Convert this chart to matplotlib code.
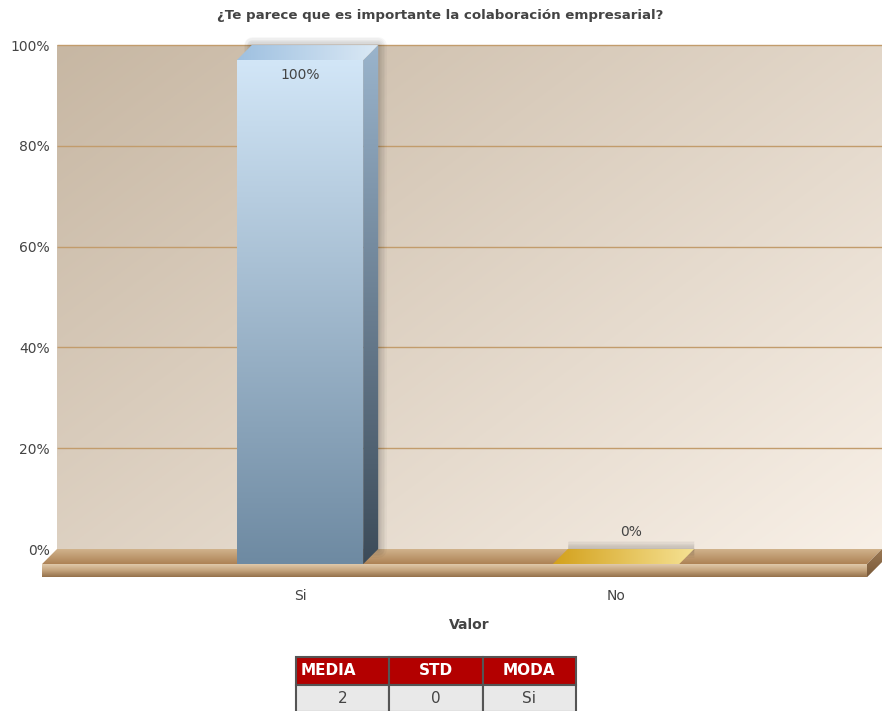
import numpy as np
import matplotlib
matplotlib.use('Agg')
import matplotlib.pyplot as plt
from matplotlib.patches import Polygon
from matplotlib.colors import LinearSegmentedColormap, to_rgb

title = '¿Te parece que es importante la colaboración empresarial?'
categories = ['Si', 'No']
values = [100, 0]
value_labels = ['100%', '0%']
y_ticks = [0, 20, 40, 60, 80, 100]
stats_header = ['MEDIA', 'STD', 'MODA']
stats_row = ['2', '0', 'Si']

# per-category colours: front face, side face, top face
front_colors = [['#d2e6f7', '#6e8aa2'], ['#f2d46a', '#c99a18']]
side_colors = [['#9ab4cc', '#3c4b59'], ['#c99a18', '#8a6a10']]
top_colors = [['#9ec0e0', '#dbe9f5'], ['#d3a11c', '#f6e294']]

fig = plt.figure(figsize=(8.82, 7.11), dpi=100)
ax = fig.add_axes([57 / 882, 131 / 711, 825 / 882, 540 / 711])

DX, DY = 0.0475, 3.0   # depth offset for the 3d look
bar_w = 0.4
x_left, x_right = -0.769, 1.842
y_bottom, y_top = -6.15, 101.0
floor_h = 2.6


def shade(verts, colors, horizontal=False, z=1):
    poly = Polygon(verts, closed=True, fc='none', ec='none', zorder=z)
    ax.add_patch(poly)
    xs = [p[0] for p in verts]
    ys = [p[1] for p in verts]
    grad = np.linspace(0, 1, 256)
    grad = grad[None, :] if horizontal else grad[:, None]
    cmap = LinearSegmentedColormap.from_list('g', colors)
    im = ax.imshow(grad, cmap=cmap, extent=(min(xs), max(xs), min(ys), max(ys)),
                   origin='upper', aspect='auto', interpolation='bilinear', zorder=z)
    im.set_clip_path(poly)
    im.set_clip_box(fig.bbox)
    return im


def soft_shadow(verts, z=2):
    # stacked translucent outlines give a blurred halo
    for lw in range(2, 14, 2):
        ax.add_patch(Polygon(verts, closed=True, fc='none', ec=(0, 0, 0, 0.03),
                             lw=lw, joinstyle='round', zorder=z, clip_on=False))


# back wall
ny, nx = 200, 400
u = np.linspace(0, 1, nx)[None, :]
v = np.linspace(0, 1, ny)[:, None]
t = u * 0.55 + v * 0.45
c0 = np.array(to_rgb('#c7b7a3'))
c1 = np.array(to_rgb('#f8f0e7'))
wall = c0 + (c1 - c0) * t[..., None]
ax.imshow(wall, extent=(x_left, x_right, 0, 100), origin='upper', aspect='auto', zorder=0)
ax.hlines(y_ticks[1:], x_left, x_right, colors='#c29c6c', lw=1, zorder=0.5)

# floor
shade([(x_left, 0), (x_right, 0), (x_right - DX, -DY), (x_left - DX, -DY)],
      ['#d3b690', '#ad8255'], z=1)
shade([(x_left - DX, -DY), (x_right - DX, -DY), (x_right - DX, -DY - floor_h),
       (x_left - DX, -DY - floor_h)], ['#e4cfb2', '#c6a67f', '#94704a'], z=1)
shade([(x_right, 0), (x_right, -floor_h), (x_right - DX, -DY - floor_h), (x_right - DX, -DY)],
      ['#9c7a55', '#7a5a3a'], z=1)

# bars
for i, (val, lab) in enumerate(zip(values, value_labels)):
    l, r = i - bar_w / 2, i + bar_w / 2
    top = val - DY
    # shadow only behind the back/right edges
    soft_shadow([(r + DX, 0), (r + DX, val), (l + DX, val), (l + DX, 0)])
    if val > 0:
        shade([(l, -DY), (r, -DY), (r, top), (l, top)], front_colors[i], z=3)
        shade([(r, -DY), (r + DX, 0), (r + DX, val), (r, top)], side_colors[i], z=3)
    shade([(l, top), (r, top), (r + DX, val), (l + DX, val)], top_colors[i], horizontal=True, z=3)
    if val >= 10:
        ax.annotate(lab, (i, top), xytext=(0, -6), textcoords='offset points',
                    ha='center', va='top', fontsize=10, color='#444444', zorder=5)
    else:
        ax.annotate(lab, (i + DX, val), xytext=(0, 7), textcoords='offset points',
                    ha='center', va='bottom', fontsize=10, color='#444444', zorder=5)

ax.set_xlim(x_left, x_right)
ax.set_ylim(y_bottom, y_top)
ax.set_yticks(y_ticks, [f'{y}%' for y in y_ticks])
ax.set_xticks(range(len(categories)), categories)
ax.tick_params(axis='y', length=0, pad=5, labelsize=10, labelcolor='#444444')
ax.tick_params(axis='x', length=0, pad=6.5, labelsize=10, labelcolor='#444444')
ax.set_xlabel('Valor', fontsize=10, fontweight='bold', color='#444444', labelpad=11)
for s in ax.spines.values():
    s.set_visible(False)

fig.text(0.4994, 1 - 15 / 711, title, ha='center', va='center',
         fontsize=9.65, fontweight='bold', color='#444444')

# summary table
tax = fig.add_axes([296 / 882, -1 / 711, 280 / 882, 55 / 711])
tax.axis('off')
tbl = tax.table(cellText=[stats_row], colLabels=stats_header, cellLoc='center', bbox=[0, 0, 1, 1])
tbl.auto_set_font_size(False)
tbl.set_fontsize(11)
for (r, c), cell in tbl.get_celld().items():
    cell.set_edgecolor('#555555')
    cell.set_linewidth(1.5)
    if r == 0:
        cell.set_facecolor('#b30000')
        cell.get_text().set_color('white')
        cell.get_text().set_fontweight('bold')
    else:
        cell.set_facecolor('#e9e9e9')
        cell.get_text().set_color('#444444')
tbl[0, 0].PAD = 0.05
tbl[0, 0].get_text().set_horizontalalignment('left')

fig.savefig('out.png', dpi=100)
